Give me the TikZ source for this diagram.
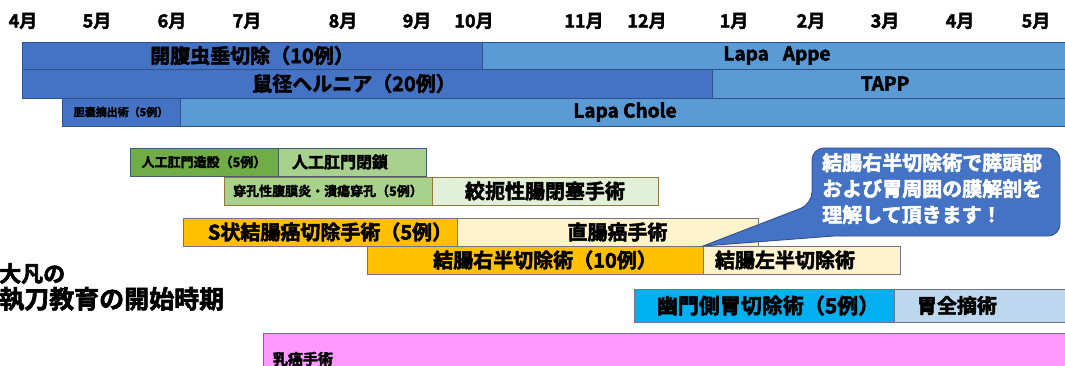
\documentclass[tikz,border=0pt]{standalone}
\usepackage{fontspec}
\setmainfont{Noto Sans CJK JP Bold}[FakeBold=2.5]
\definecolor{blueA}{HTML}{4472C4}
\definecolor{blueB}{HTML}{5B9BD5}
\definecolor{blueLine}{HTML}{2F528F}
\definecolor{greenA}{HTML}{70AD47}
\definecolor{greenB}{HTML}{A9D18E}
\definecolor{greenC}{HTML}{E2F0D9}
\definecolor{greenLine}{HTML}{3E5C74}
\definecolor{oliveLine}{HTML}{8C7A3E}
\definecolor{orangeA}{HTML}{FFC000}
\definecolor{orangeB}{HTML}{FFF2CC}
\definecolor{greyLine}{HTML}{6F7480}
\definecolor{cyanA}{HTML}{00B0F0}
\definecolor{cyanB}{HTML}{BDD7EE}
\definecolor{pinkA}{HTML}{FF99FF}
\newcommand{\fsz}[1]{\fontsize{#1}{#1}\selectfont}
\begin{document}
\begin{tikzpicture}[x=1pt,y=-1pt,
  seg/.style={anchor=north west, inner sep=0pt, outer sep=0pt, line width=0.8pt, text=black},
  lseg/.style={seg, align=left},
  month/.style={font=\fsz{18}, inner sep=0pt},
]
\useasboundingbox (0,0) rectangle (1065,365);
\fill[white] (0,0) rectangle (1065,365);
\clip (0,0) rectangle (1065,365);

% month labels
\node[month] (m4)  at (23,21)   {4月};
\node[month] (m5)  at (97,21)   {5月};
\node[month] (m6)  at (172,21)  {6月};
\node[month] (m7)  at (247,21)  {7月};
\node[month] (m8)  at (343,21)  {8月};
\node[month] (m9)  at (417,21)  {9月};
\node[month] (m10) at (474,21)  {10月};
\node[month] (m11) at (584,21)  {11月};
\node[month] (m12) at (647,21)  {12月};
\node[month] (m1)  at (734,21)  {1月};
\node[month] (m2)  at (811,21)  {2月};
\node[month] (m3)  at (885,21)  {3月};
\node[month] (m4b) at (960,21)  {4月};
\node[month] (m5b) at (1036,21) {5月};

% row 1
\node[seg, draw=blueLine, fill=blueA, minimum width=460, minimum height=27, font=\fsz{20}] (appeo) at (22,42) {開腹虫垂切除（10例）};
\node[seg, draw=blueLine, fill=blueB, minimum width=590, minimum height=27, font=\fsz{19}] (appel) at (482,42) {Lapa\hspace{14pt}Appe};
% row 2
\node[seg, draw=blueLine, fill=blueA, minimum width=690, minimum height=29, font=\fsz{20}] (herno) at (22,69) {\hspace{-26pt}鼠径ヘルニア（20例）};
\node[seg, draw=blueLine, fill=blueB, minimum width=370, minimum height=29, font=\fsz{19}] (tapp) at (712,69) {\hspace{-24pt}TAPP};
% row 3
\node[seg, draw=blueLine, fill=blueA, minimum width=118, minimum height=28, font=\fsz{11}] (choleo) at (62,98) {胆嚢摘出術（5例）};
\node[seg, draw=blueLine, fill=blueB, minimum width=890, minimum height=28, font=\fsz{19}] (cholel) at (180,98) {Lapa Chole};
% row 4
\node[seg, draw=greenLine, fill=greenA, minimum width=148, minimum height=28, font=\fsz{13}] (stoma) at (130,148) {人工肛門造設（5例）};
\node[lseg, draw=greenLine, fill=greenB, minimum height=28, inner xsep=14pt, text width=120pt, font=\fsz{16}] (stomac) at (278,148) {人工肛門閉鎖};
% row 5
\node[seg, draw=oliveLine, fill=greenB, minimum width=208, minimum height=28, font=\fsz{13}] (perf) at (224,177) {穿孔性腹膜炎・潰瘍穿孔（5例）};
\node[seg, draw=oliveLine, fill=greenC, minimum width=226, minimum height=28, font=\fsz{20}] (ileus) at (432,177) {絞扼性腸閉塞手術};
% row 6
\node[seg, draw=greyLine, fill=orangeA, minimum width=274, minimum height=28, font=\fsz{20}] (sig) at (183,218) {\hspace{20pt}S状結腸癌切除手術（5例）};
\node[seg, draw=greyLine, fill=orangeB, minimum width=301, minimum height=28, font=\fsz{20}] (rect) at (457,218) {\hspace{20pt}直腸癌手術};
% row 7
\node[seg, draw=greyLine, fill=orangeA, minimum width=336, minimum height=28, font=\fsz{20}] (rhemi) at (367,246) {\hspace{20pt}結腸右半切除術（10例）};
\node[lseg, draw=greyLine, fill=orangeB, minimum height=28, inner xsep=12pt, text width=173pt, font=\fsz{20}] (lhemi) at (703,246) {結腸左半切除術};
% row 8
\node[seg, draw=greyLine, fill=cyanA, minimum width=260, minimum height=33, font=\fsz{21}] (dg) at (634,289) {\hspace{8pt}幽門側胃切除術（5例）};
\node[lseg, draw=greyLine, fill=cyanB, minimum height=33, inner xsep=23pt, text width=140pt, font=\fsz{20}] (tg) at (894,289) {胃全摘術};
% row 9
\node[lseg, draw=greyLine, fill=pinkA, minimum height=52, inner xsep=10pt, text width=800pt, font=\fsz{15}] (breast) at (263,333) {乳癌手術};

% title
\node[anchor=north west, inner sep=0pt, align=left] (title) at (-1,263)
  {{\fsz{22}大凡の}\\[2pt]{\fsz{25}執刀教育の開始時期}};

% callout
\draw[fill=blueA, draw=blueLine, line width=0.9pt, rounded corners=12pt]
  (834,236) -- (1060,236) -- (1060,148) -- (812,148) -- (812,204)
  [sharp corners] -- (rhemi.north east) -- cycle;
\node[anchor=north west, inner sep=0pt, align=left, text=white, font=\fsz{20}] (note) at (822,153)
  {結腸右半切除術で膵頭部\\[6pt]および胃周囲の膜解剖を\\[6pt]理解して頂きます！};
\end{tikzpicture}
\end{document}
